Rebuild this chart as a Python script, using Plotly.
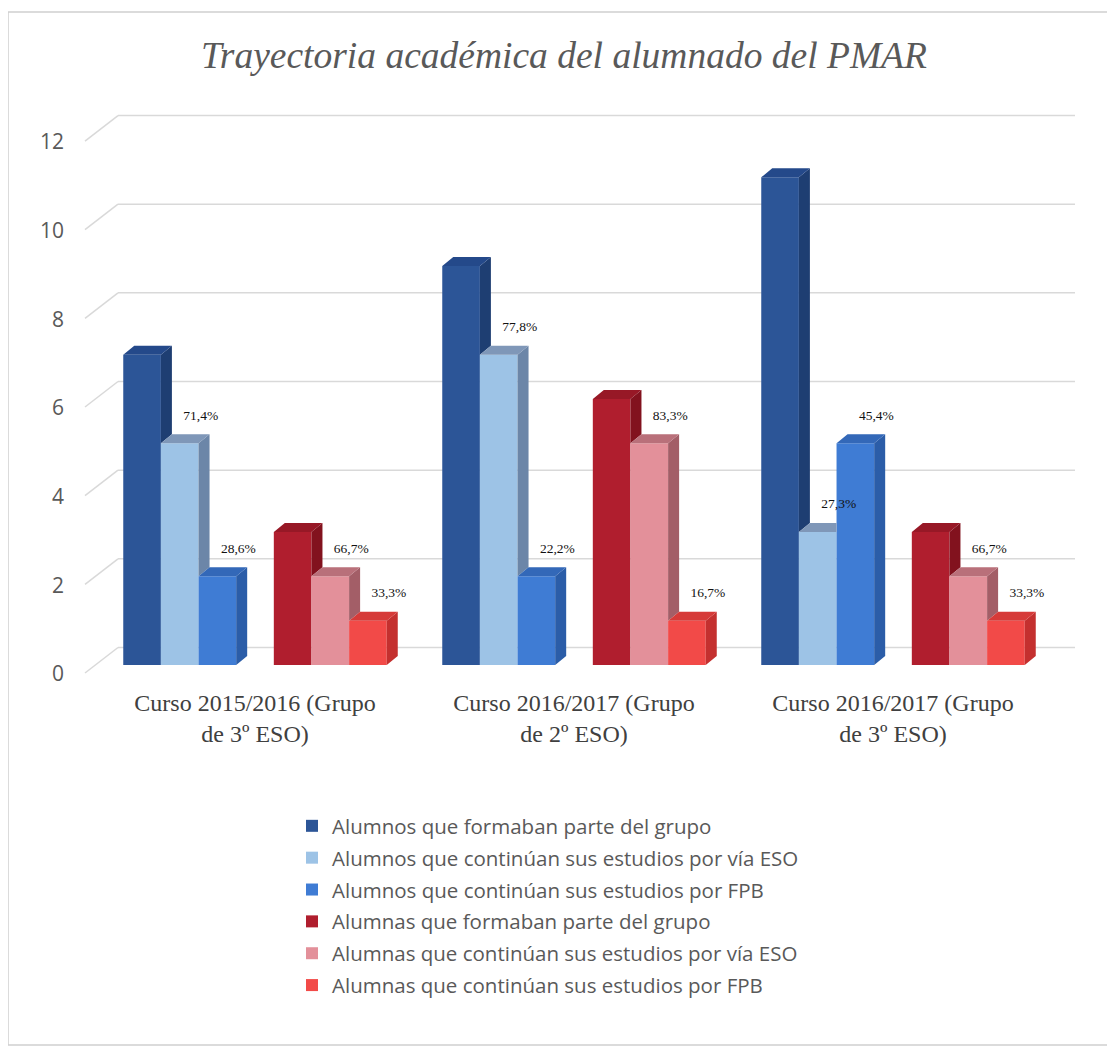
import plotly.graph_objects as go

# ---------------- data ----------------
categories = [
    "Curso 2015/2016 (Grupo<br>de 3º ESO)",
    "Curso 2016/2017 (Grupo<br>de 2º ESO)",
    "Curso 2016/2017 (Grupo<br>de 3º ESO)",
]
series_names = [
    "Alumnos que formaban parte del grupo",
    "Alumnos que continúan sus estudios por vía ESO",
    "Alumnos que continúan sus estudios por FPB",
    "Alumnas que formaban parte del grupo",
    "Alumnas que continúan sus estudios por vía ESO",
    "Alumnas que continúan sus estudios por FPB",
]
alumnos_grupo = [7, 9, 11]
alumnos_eso = [5, 7, 3]
alumnos_fpb = [2, 2, 5]
alumnas_grupo = [3, 6, 3]
alumnas_eso = [2, 5, 2]
alumnas_fpb = [1, 1, 1]

alumnos_eso_pct = ["71,4%", "77,8%", "27,3%"]
alumnos_fpb_pct = ["28,6%", "22,2%", "45,4%"]
alumnas_eso_pct = ["66,7%", "83,3%", "66,7%"]
alumnas_fpb_pct = ["33,3%", "16,7%", "33,3%"]

y_ticks = [0, 2, 4, 6, 8, 10, 12]
title_text = "Trayectoria académica del alumnado del PMAR"

# ---------------- styling ----------------
values = [alumnos_grupo, alumnos_eso, alumnos_fpb, alumnas_grupo, alumnas_eso, alumnas_fpb]
pct_labels = {1: alumnos_eso_pct, 2: alumnos_fpb_pct, 4: alumnas_eso_pct, 5: alumnas_fpb_pct}
front_colors = ["#2C5597", "#9DC3E6", "#3F7CD4", "#B01E2E", "#E3909A", "#F24A48"]
side_colors = ["#1E3E72", "#6C86A8", "#2B5DA8", "#82121E", "#A35E67", "#C4302F"]
top_colors = ["#24498A", "#7F97B8", "#3368B8", "#971826", "#B9707A", "#D63A38"]
slots = [0, 1, 2, 4, 5, 6]

OFF = 8  # page body margin
W, H = 1115 - OFF, 1050 - OFF
# plot area in page pixels: x 118..1075, y 110..670
L = 118 - OFF
R = W - (1075 - OFF)
T = 110 - OFF
B = H - (670 - OFF)
PW, PH = W - L - R, H - T - B
PX_PER_X = PW / 3.0
PX_PER_Y = 44.33
XR = [-137 / PX_PER_X, -137 / PX_PER_X + 3.0]
Y0 = -5 / PX_PER_Y
Y1 = Y0 + PH / PX_PER_Y
SLOT = 0.118
DX = 11 / PX_PER_X
DY = 9 / PX_PER_Y
x_pos = [0, 1, 2]


def px_x(px):  # page px -> paper x
    return (px - OFF - L) / PW


def py_paper(py):  # page px -> paper y
    return (H - B - (py - OFF)) / PH


def yv_paper(v):
    return (v - Y0) / (Y1 - Y0)


fig = go.Figure()

# front faces (bars)
for s in range(6):
    off = (slots[s] - 3.5) * SLOT
    fig.add_trace(go.Bar(
        x=x_pos, y=values[s], name=series_names[s], offset=off, width=SLOT,
        marker=dict(color=front_colors[s], line=dict(width=0)),
        legendgroup=str(s), hoverinfo="skip",
    ))

# 3D top and side faces derived from the data
for s in range(6):
    off = (slots[s] - 3.5) * SLOT
    adjacent = s + 1 < 6 and slots[s + 1] == slots[s] + 1
    sx, sy, tx, ty = [], [], [], []
    for c in range(3):
        v = values[s][c]
        x0 = x_pos[c] + off
        x1 = x0 + SLOT
        vn = values[s + 1][c] if adjacent else 0
        if adjacent and vn > v:
            tx += [x0, x1, x1, x0 + DX, x0, None]
            ty += [v, v, v + DY, v + DY, v, None]
        else:
            tx += [x0, x1, x1 + DX, x0 + DX, x0, None]
            ty += [v, v, v + DY, v + DY, v, None]
        if not (adjacent and vn >= v):
            vb = vn if adjacent else 0
            sx += [x1, x1 + DX, x1 + DX, x1, x1, None]
            sy += [vb, vb + DY, v + DY, v, vb, None]
    fig.add_trace(go.Scatter(x=sx, y=sy, mode="lines", fill="toself",
                             fillcolor=side_colors[s], line=dict(width=0),
                             showlegend=False, hoverinfo="skip"))
    fig.add_trace(go.Scatter(x=tx, y=ty, mode="lines", fill="toself",
                             fillcolor=top_colors[s], line=dict(width=0),
                             showlegend=False, hoverinfo="skip"))

# percentage labels
for s, labs in pct_labels.items():
    off = (slots[s] - 3.5) * SLOT
    fig.add_trace(go.Scatter(
        x=[x_pos[c] + off + SLOT / 2 + 21 / PX_PER_X for c in range(3)],
        y=[values[s][c] + 27 / PX_PER_Y for c in range(3)],
        text=labs, mode="text", textposition="middle center",
        textfont=dict(family="Liberation Serif", size=13.5, color="#111111"),
        showlegend=False, hoverinfo="skip",
    ))

shapes = []
# chart border
shapes.append(dict(type="rect", xref="paper", yref="paper",
                   x0=px_x(8), x1=px_x(1114), y0=py_paper(1045), y1=py_paper(12),
                   line=dict(color="#D0D0D0", width=1.5), fillcolor="rgba(0,0,0,0)", layer="below"))
# back wall gridlines and left wall slants
back_off = 17.5 / PX_PER_Y
front_off = -8 / PX_PER_Y
for v in y_ticks:
    shapes.append(dict(type="line", xref="paper", yref="paper",
                       x0=0, x1=1, y0=yv_paper(v + back_off), y1=yv_paper(v + back_off),
                       line=dict(color="#D9D9D9", width=1.5), layer="below"))
    shapes.append(dict(type="line", xref="paper", yref="paper",
                       x0=px_x(85), x1=0, y0=yv_paper(v + front_off), y1=yv_paper(v + back_off),
                       line=dict(color="#D9D9D9", width=1.5), layer="below"))

fig.update_layout(
    width=W, height=H, autosize=False,
    margin=dict(l=L, r=R, t=T, b=B),
    paper_bgcolor="white", plot_bgcolor="rgba(0,0,0,0)",
    barmode="overlay",
    title=dict(text=title_text, x=(564 - OFF) / W, xanchor="center",
               y=1 - (55 - OFF) / H, yanchor="middle",
               font=dict(family="Liberation Serif", size=37.5, color="#595959", style="italic")),
    xaxis=dict(range=XR, tickvals=x_pos, ticktext=categories, showgrid=False, zeroline=False,
               showline=False, ticks="", ticklabelstandoff=16,
               tickfont=dict(family="Liberation Serif", size=24, color="#404040")),
    yaxis=dict(range=[Y0, Y1], tickvals=y_ticks, showgrid=False, zeroline=False, showline=False,
               ticks="", ticklabelstandoff=53, ticklabelshift=9,
               tickfont=dict(family="Open Sans", size=21, color="#595959")),
    legend=dict(x=px_x(292), y=py_paper(806), xanchor="left", yanchor="top",
                traceorder="grouped", tracegroupgap=2.2, itemwidth=30,
                font=dict(family="Open Sans", size=20.5, color="#595959"),
                bgcolor="rgba(0,0,0,0)"),
    shapes=shapes,
)

fig.write_html("out.html")
